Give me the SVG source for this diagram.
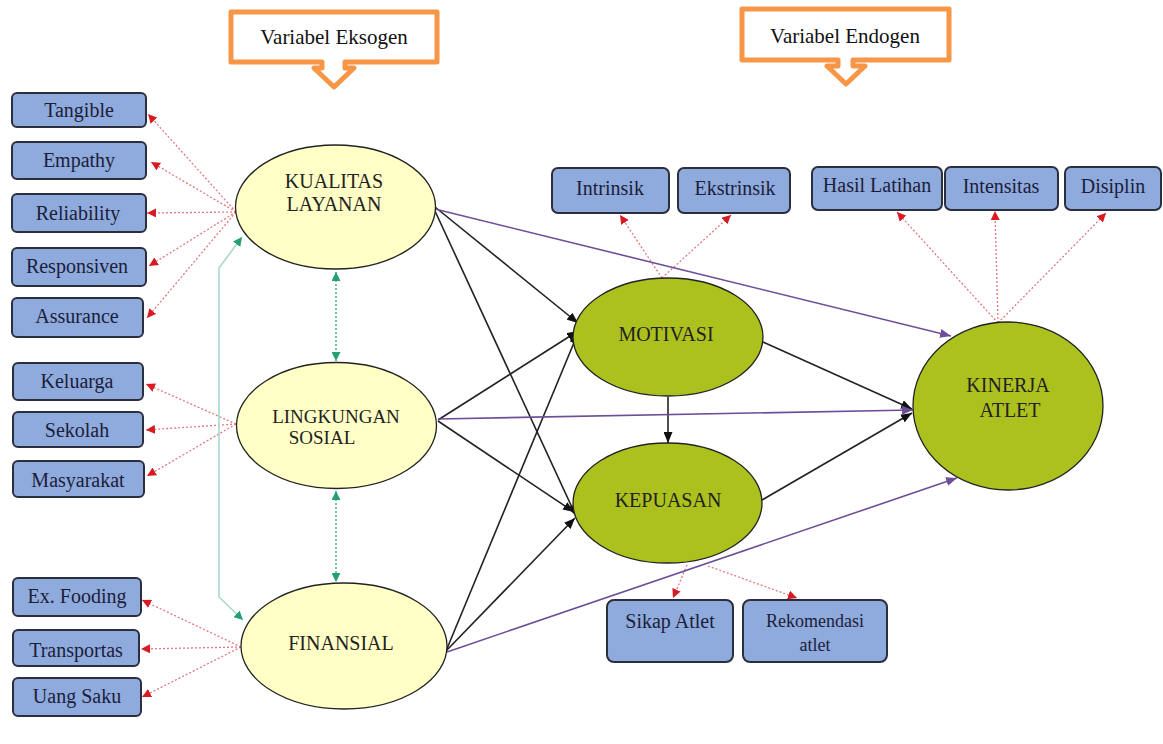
<svg xmlns="http://www.w3.org/2000/svg" width="1163" height="744" viewBox="0 0 1163 744">
<style>
.box{fill:#8FAADC;stroke:#2B2E3C;stroke-width:2}
.lat{fill:#FFFFC6;stroke:#222;stroke-width:1.3}
.end{fill:#ADC11E;stroke:#222;stroke-width:1.3}
text{font-family:'Liberation Serif','Times New Roman',Times,'DejaVu Serif',serif}
.bt{font-size:20px;fill:#1B1E3A;text-anchor:middle}
.et{font-size:20px;fill:#222;text-anchor:middle}
.ct{font-size:21px;fill:#111;text-anchor:middle}
.call{fill:#fff;stroke:#F79646;stroke-width:5;stroke-linejoin:round}
.red{stroke:#E07A80;stroke-width:1.3;stroke-dasharray:2 2;fill:none;marker-end:url(#ar)}
.blk{stroke:#222;stroke-width:1.6;fill:none;marker-end:url(#ab)}
.pur{stroke:#6E4E98;stroke-width:1.6;fill:none;marker-end:url(#ap)}
.grd{stroke:#2FA878;stroke-width:1.3;stroke-dasharray:2 2;fill:none;marker-start:url(#ag);marker-end:url(#ag)}
.grs{stroke:#A9D9CF;stroke-width:1.6;fill:none;marker-start:url(#ag);marker-end:url(#ag)}
</style>
<defs>
<marker id="ar" markerUnits="userSpaceOnUse" markerWidth="9" markerHeight="9" refX="9" refY="4.5" orient="auto"><path d="M0,0 L9,4.5 L0,9 z" fill="#D81B23"/></marker>
<marker id="ab" markerUnits="userSpaceOnUse" markerWidth="11" markerHeight="9" refX="11" refY="4.5" orient="auto"><path d="M0,0 L11,4.5 L0,9 z" fill="#111"/></marker>
<marker id="ap" markerUnits="userSpaceOnUse" markerWidth="11" markerHeight="9" refX="11" refY="4.5" orient="auto"><path d="M0,0 L11,4.5 L0,9 z" fill="#6E4E98"/></marker>
<marker id="ag" markerUnits="userSpaceOnUse" markerWidth="9" markerHeight="9" refX="9" refY="4.5" orient="auto-start-reverse"><path d="M0,0 L9,4.5 L0,9 z" fill="#25A070"/></marker>
</defs>
<rect width="1163" height="744" fill="#fff"/>

<g id="callout-eksogen">
<path class="call" d="M231,12 H437 V62 H345 V68 H354 L334,87 L314,68 H322 V62 H231 Z"/>
<text class="ct" x="334" y="44">Variabel Eksogen</text>
</g>
<g id="callout-endogen">
<path class="call" d="M742,9 H949 V60 H853 V66 H865 L846,84 L827,66 H838 V60 H742 Z"/>
<text class="ct" x="845" y="43">Variabel Endogen</text>
</g>

<g id="connectors">
<path class="red" d="M236,212 L148,114"/>
<path class="red" d="M236,212 L151,162"/>
<path class="red" d="M236,212 L147,213"/>
<path class="red" d="M236,212 L149,266"/>
<path class="red" d="M236,212 L147,318"/>
<path class="red" d="M236,424 L146,384"/>
<path class="red" d="M236,424 L146,430"/>
<path class="red" d="M236,424 L147,476"/>
<path class="red" d="M241,647 L142,600"/>
<path class="red" d="M241,647 L141,649"/>
<path class="red" d="M241,647 L142,697"/>
<path class="red" d="M662,278 L620,215"/>
<path class="red" d="M662,278 L731,215"/>
<path class="red" d="M998,323 L897,212"/>
<path class="red" d="M998,323 L995,211"/>
<path class="red" d="M998,323 L1106,213"/>
<path class="red" d="M687,565 L673,598"/>
<path class="red" d="M708,566 L797,598"/>
<path class="grd" d="M336,272 V361"/>
<path class="grd" d="M336,491 V582"/>
<path class="grs" d="M242,237 L219,268 V597 L243,620"/>
<path class="blk" d="M435,207 L578,323"/>
<path class="blk" d="M435,211 L576,516"/>
<path class="blk" d="M438,420 L578,331"/>
<path class="blk" d="M438,421 L574,512"/>
<path class="blk" d="M446,651 L578,333"/>
<path class="blk" d="M446,651 L575,518"/>
<path class="blk" d="M668,397 V443"/>
<path class="blk" d="M763,342 L912,409"/>
<path class="blk" d="M762,500 L912,413"/>
<path class="pur" d="M435,209 L951,336"/>
<path class="pur" d="M438,419 L913,410"/>
<path class="pur" d="M447,652 L957,478"/>
</g>

<g id="tangible"><rect class="box" x="12" y="93" width="134" height="34" rx="5"/><text class="bt" x="79" y="117">Tangible</text></g>
<g id="empathy"><rect class="box" x="12" y="142" width="134" height="37" rx="5"/><text class="bt" x="79" y="167">Empathy</text></g>
<g id="reliability"><rect class="box" x="12" y="194" width="134" height="38" rx="5"/><text class="bt" x="78" y="220">Reliability</text></g>
<g id="responsiven"><rect class="box" x="12" y="248" width="134" height="38" rx="5"/><text class="bt" x="77" y="273">Responsiven</text></g>
<g id="assurance"><rect class="box" x="12" y="298" width="131" height="39" rx="5"/><text class="bt" x="77" y="323">Assurance</text></g>
<g id="keluarga"><rect class="box" x="13" y="363" width="130" height="37" rx="5"/><text class="bt" x="77" y="388">Keluarga</text></g>
<g id="sekolah"><rect class="box" x="13" y="412" width="130" height="35" rx="5"/><text class="bt" x="77" y="437">Sekolah</text></g>
<g id="masyarakat"><rect class="box" x="13" y="461" width="131" height="36" rx="5"/><text class="bt" x="78" y="487">Masyarakat</text></g>
<g id="exfooding"><rect class="box" x="13" y="578" width="128" height="38" rx="5"/><text class="bt" x="77" y="603">Ex. Fooding</text></g>
<g id="transportas"><rect class="box" x="13" y="630" width="126" height="36" rx="5"/><text class="bt" x="76" y="657">Transportas</text></g>
<g id="uangsaku"><rect class="box" x="13" y="678" width="128" height="38" rx="5"/><text class="bt" x="77" y="703">Uang Saku</text></g>

<g id="intrinsik"><rect class="box" x="552" y="168" width="117" height="45" rx="6"/><text class="bt" x="610" y="195">Intrinsik</text></g>
<g id="ekstrinsik"><rect class="box" x="678" y="168" width="112" height="45" rx="6"/><text class="bt" x="735" y="195">Ekstrinsik</text></g>
<g id="hasillatihan"><rect class="box" x="812" y="167" width="130" height="43" rx="6"/><text class="bt" x="877" y="192">Hasil Latihan</text></g>
<g id="intensitas"><rect class="box" x="945" y="167" width="113" height="43" rx="6"/><text class="bt" x="1001" y="193">Intensitas</text></g>
<g id="disiplin"><rect class="box" x="1065" y="167" width="96" height="43" rx="6"/><text class="bt" x="1113" y="193">Disiplin</text></g>
<g id="sikapatlet"><rect class="box" x="607" y="600" width="126" height="62" rx="7"/><text class="bt" x="670" y="628">Sikap Atlet</text></g>
<g id="rekomendasi"><rect class="box" x="743" y="600" width="144" height="62" rx="7"/><text class="bt" x="815" y="627" style="font-size:18px">Rekomendasi</text><text class="bt" x="815" y="651" style="font-size:18px">atlet</text></g>

<g id="kualitas"><ellipse class="lat" cx="335.5" cy="207" rx="100" ry="62"/><text class="et" x="334" y="188">KUALITAS</text><text class="et" x="334" y="211">LAYANAN</text></g>
<g id="lingkungan"><ellipse class="lat" cx="336.5" cy="425.5" rx="100" ry="63"/><text class="et" x="336" y="423" style="font-size:19px">LINGKUNGAN</text><text class="et" x="322" y="444" style="font-size:19px">SOSIAL</text></g>
<g id="finansial"><ellipse class="lat" cx="344" cy="646" rx="103" ry="63"/><text class="et" x="341" y="650">FINANSIAL</text></g>
<g id="motivasi"><ellipse class="end" cx="668" cy="337" rx="95" ry="59"/><text class="et" x="666" y="341">MOTIVASI</text></g>
<g id="kepuasan"><ellipse class="end" cx="667.5" cy="503" rx="94.5" ry="60"/><text class="et" x="668" y="507">KEPUASAN</text></g>
<g id="kinerja"><ellipse class="end" cx="1008" cy="406" rx="95" ry="84"/><text class="et" x="1008" y="392">KINERJA</text><text class="et" x="1010" y="417">ATLET</text></g>
</svg>
